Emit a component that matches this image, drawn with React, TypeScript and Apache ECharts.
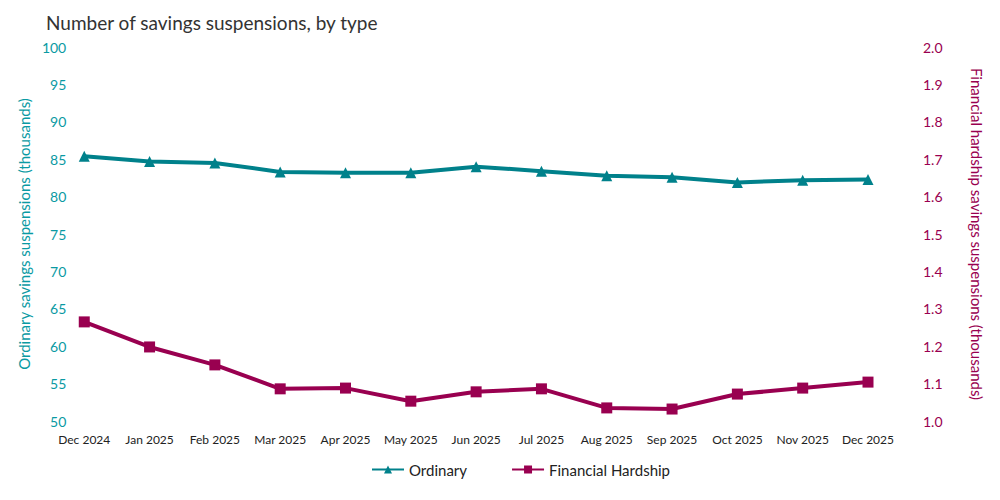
import React, { useEffect, useRef } from "react";
import * as echarts from "echarts";

const categories = ["Dec 2024", "Jan 2025", "Feb 2025", "Mar 2025", "Apr 2025", "May 2025", "Jun 2025", "Jul 2025", "Aug 2025", "Sep 2025", "Oct 2025", "Nov 2025", "Dec 2025"];
const ordinary = [85.4, 84.7, 84.5, 83.3, 83.2, 83.2, 84.0, 83.4, 82.8, 82.6, 81.9, 82.2, 82.3];
const hardship = [1.265, 1.198, 1.15, 1.086, 1.088, 1.053, 1.078, 1.086, 1.035, 1.032, 1.072, 1.088, 1.104];

const TEAL = "#00818b";
const MAGENTA = "#990050";
const FONT = "Lato, 'Open Sans', sans-serif";

export default function App() {
  const ref = useRef<HTMLDivElement>(null);
  useEffect(() => {
    const chart = echarts.init(ref.current!, null, { renderer: "svg" });
    chart.setOption({
      animation: false,
      textStyle: { fontFamily: FONT },
      title: {
        text: "Number of savings suspensions, by type",
        left: 33,
        top: 0,
        textStyle: { fontSize: 19, fontWeight: "normal", color: "#333", fontFamily: FONT },
      },
      legend: {
        bottom: 10,
        left: 358,
        itemWidth: 32,
        itemHeight: 10,
        itemGap: 44,
        textStyle: { fontSize: 15, color: "#222", fontFamily: FONT },
        data: ["Ordinary", "Financial Hardship"],
      },
      grid: { left: 72, right: 115, top: 39, bottom: 71 },
      xAxis: {
        type: "category",
        data: categories,
        boundaryGap: false,
        axisLine: { show: false },
        axisTick: { show: false },
        axisLabel: { color: "#222", fontSize: 12, margin: 12, interval: 0, fontFamily: FONT },
      },
      yAxis: [
        {
          type: "value",
          min: 50,
          max: 100,
          interval: 5,
          name: "Ordinary savings suspensions (thousands)",
          nameLocation: "middle",
          nameGap: 43,
          nameTextStyle: { color: "#0a9aa3", fontSize: 15, fontFamily: FONT },
          axisLine: { show: false },
          axisTick: { show: false },
          splitLine: { show: false },
          axisLabel: { color: "#0a9aa3", fontSize: 14, margin: 18, fontFamily: FONT },
        },
        {
          type: "value",
          min: 1.0,
          max: 2.0,
          interval: 0.1,
          name: "Financial hardship savings suspensions (thousands)",
          nameLocation: "middle",
          nameGap: 101,
          nameRotate: -90,
          nameTextStyle: { color: MAGENTA, fontSize: 15, fontFamily: FONT },
          axisLine: { show: false },
          axisTick: { show: false },
          splitLine: { show: false },
          axisLabel: {
            color: MAGENTA,
            fontSize: 14,
            margin: 55,
            fontFamily: FONT,
            formatter: (v: number) => v.toFixed(1),
          },
        },
      ],
      series: [
        {
          name: "Ordinary",
          type: "line",
          data: ordinary,
          yAxisIndex: 0,
          symbol: "triangle",
          symbolSize: 11,
          lineStyle: { color: TEAL, width: 4 },
          itemStyle: { color: TEAL },
        },
        {
          name: "Financial Hardship",
          type: "line",
          data: hardship,
          yAxisIndex: 1,
          symbol: "rect",
          symbolSize: 11,
          lineStyle: { color: MAGENTA, width: 4 },
          itemStyle: { color: MAGENTA },
        },
      ],
    });
    return () => chart.dispose();
  }, []);
  return <div ref={ref} style={{ width: 984, height: 484 }} />;
}
